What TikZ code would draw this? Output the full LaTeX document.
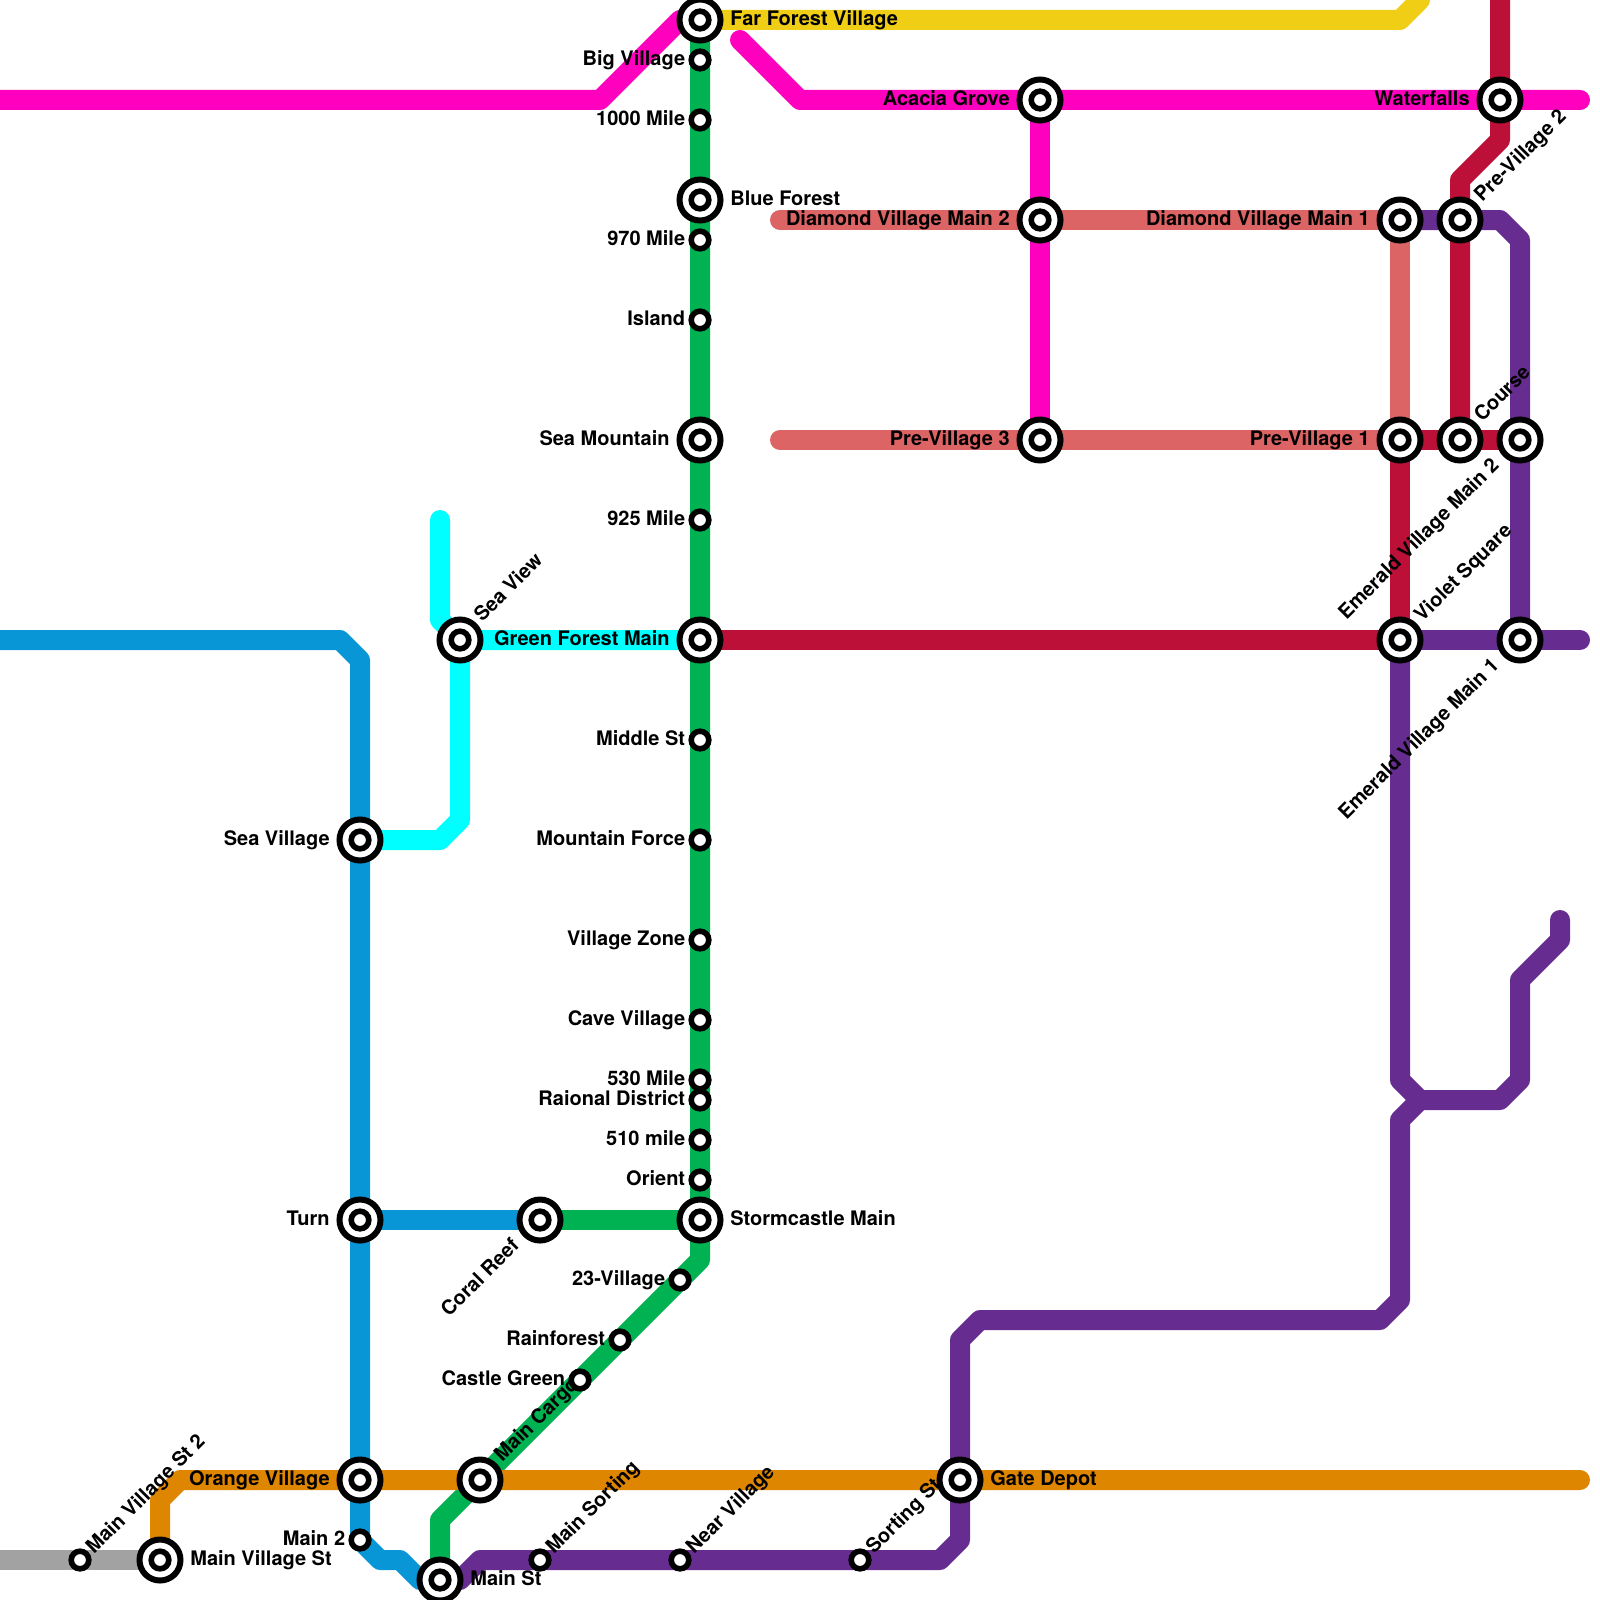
\documentclass[tikz,border=0pt]{standalone}
\usepackage{fontspec}
\setmainfont{TeX Gyre Heros}
\usetikzlibrary{backgrounds}
\definecolor{metroMagenta}{HTML}{FF00BF}
\definecolor{metroYellow}{HTML}{F0CE15}
\definecolor{metroCrimson}{HTML}{BD1038}
\definecolor{metroCoral}{HTML}{DC6464}
\definecolor{metroPurple}{HTML}{662C90}
\definecolor{metroBlue}{HTML}{0896D7}
\definecolor{metroGreen}{HTML}{00B251}
\definecolor{metroCyan}{HTML}{00FFFF}
\definecolor{metroOrange}{HTML}{DF8600}
\definecolor{metroGray}{HTML}{A2A2A2}
\tikzset{
  every picture/.style={font=\fontsize{10}{11}\selectfont\bfseries},
  every label/.style={inner ysep=0pt, text height=7.2pt, text depth=0pt, yshift=0.75pt},
  metro line/.style={line width=10pt, line cap=round, line join=round},
  metro hub/.style={circle, draw=black, fill=white, line width=3pt, inner sep=0pt,
    minimum size=20.5pt, outer sep=0pt,
    path picture={\draw[line width=2.8pt] (path picture bounding box.center) circle (4.4pt);}},
  metro stop/.style={circle, draw=black, fill=white, line width=2.8pt, inner sep=0pt,
    minimum size=8.8pt, outer sep=0pt},
  metro up/.style={rotate=45, anchor=west, xshift=-1.2pt, yshift=0.3pt},
  metro down/.style={rotate=45, anchor=east, xshift=-2.25pt, yshift=1.7pt}
}
\begin{document}
\begin{tikzpicture}[x=0.5pt,y=-0.5pt]
  \useasboundingbox (0,0) rectangle (1600,1600);
  % hubs
  \begin{scope}[label distance=1.4pt]
    \node[metro hub,label=0:Far Forest Village] (farForest) at (700,20) {};
    \node[metro hub,label=0:Blue Forest] (blueForest) at (700,200) {};
    \node[metro hub,label=180:Sea Mountain] (seaMountain) at (700,440) {};
    \node[metro hub,label=180:Green Forest Main] (greenForest) at (700,640) {};
    \node[metro hub,label=0:Stormcastle Main] (stormcastle) at (700,1220) {};
    \node[metro hub,label=180:Acacia Grove] (acacia) at (1040,100) {};
    \node[metro hub,label=180:Diamond Village Main 2] (diamondTwo) at (1040,220) {};
    \node[metro hub,label=180:Pre-Village 3] (preThree) at (1040,440) {};
    \node[metro hub,label=180:Diamond Village Main 1] (diamondOne) at (1400,220) {};
    \node[metro hub,label={[metro up]45:Pre-Village 2}] (preTwo) at (1460,220) {};
    \node[metro hub,label=180:Waterfalls] (waterfalls) at (1500,100) {};
    \node[metro hub,label=180:Pre-Village 1] (preOne) at (1400,440) {};
    \node[metro hub,label={[metro up]45:Course}] (course) at (1460,440) {};
    \node[metro hub,label={[metro down]225:Emerald Village Main 2}] (emeraldTwo) at (1520,440) {};
    \node[metro hub,label={[metro up]45:Violet Square}] (violet) at (1400,640) {};
    \node[metro hub,label={[metro down]225:Emerald Village Main 1}] (emeraldOne) at (1520,640) {};
    \node[metro hub,label={[metro up]45:Sea View}] (seaView) at (460,640) {};
    \node[metro hub,label=180:Sea Village] (seaVillage) at (360,840) {};
    \node[metro hub,label=180:Turn] (turn) at (360,1220) {};
    \node[metro hub,label={[metro down]225:Coral Reef}] (coralReef) at (540,1220) {};
    \node[metro hub,label=180:Orange Village] (orangeVillage) at (360,1480) {};
    \node[metro hub,label={[metro up]45:Main Cargo}] (mainCargo) at (480,1480) {};
    \node[metro hub,label=0:Main Village St] (mainVillage) at (160,1560) {};
    \node[metro hub,label=0:Main St] (mainSt) at (440,1580) {};
    \node[metro hub,label=0:Gate Depot] (gateDepot) at (960,1480) {};
  \end{scope}
  % stops
  \begin{scope}[label distance=-0.5pt]
    \node[metro stop,label=180:Big Village] (bigVillage) at (700,60) {};
    \node[metro stop,label=180:1000 Mile] (mileThousand) at (700,120) {};
    \node[metro stop,label=180:970 Mile] (mileNineSeventy) at (700,240) {};
    \node[metro stop,label=180:Island] (island) at (700,320) {};
    \node[metro stop,label=180:925 Mile] (mileNineTwoFive) at (700,520) {};
    \node[metro stop,label=180:Middle St] (middleSt) at (700,740) {};
    \node[metro stop,label=180:Mountain Force] (mountainForce) at (700,840) {};
    \node[metro stop,label=180:Village Zone] (villageZone) at (700,940) {};
    \node[metro stop,label=180:Cave Village] (caveVillage) at (700,1020) {};
    \node[metro stop,label=180:530 Mile] (mileFiveThirty) at (700,1080) {};
    \node[metro stop,label=180:Raional District] (raional) at (700,1100) {};
    \node[metro stop,label=180:510 mile] (mileFiveTen) at (700,1140) {};
    \node[metro stop,label=180:Orient] (orient) at (700,1180) {};
    \node[metro stop,label=180:23-Village] (villageTwentyThree) at (680,1280) {};
    \node[metro stop,label=180:Rainforest] (rainforest) at (620,1340) {};
    \node[metro stop,label=180:Castle Green] (castleGreen) at (580,1380) {};
    \node[metro stop,label=180:Main 2] (mainTwo) at (360,1540) {};
    \node[metro stop,label={[metro up]45:Main Village St 2}] (mainVillageTwo) at (80,1560) {};
    \node[metro stop,label={[metro up]45:Main Sorting}] (mainSorting) at (540,1560) {};
    \node[metro stop,label={[metro up]45:Near Village}] (nearVillage) at (680,1560) {};
    \node[metro stop,label={[metro up]45:Sorting St}] (sortingSt) at (860,1560) {};
  \end{scope}
  % free line ends
  \coordinate (magentaWest) at (0,100);
  \coordinate (magentaEast) at (1580,100);
  \coordinate (magentaStub) at (740,40);
  \coordinate (yellowEnd) at (1420,0);
  \coordinate (crimsonTop) at (1500,0);
  \coordinate (coralTop) at (780,220);
  \coordinate (coralLow) at (780,440);
  \coordinate (purpleEast) at (1580,640);
  \coordinate (purpleStub) at (1560,920);
  \coordinate (orangeEast) at (1580,1480);
  \coordinate (grayWest) at (0,1560);
  \coordinate (blueWest) at (0,640);
  \coordinate (cyanStub) at (440,520);
  % lines
  \begin{scope}[on background layer]
    \draw[metro line,metroGray] (grayWest) -- (mainVillage.center);
    \draw[metro line,metroYellow] (farForest.center) -- (1400,20) -- (yellowEnd);
    \draw[metro line,metroCoral] (coralTop) -- (diamondOne.center) -- (preOne.center) -- (coralLow);
    \draw[metro line,metroCrimson] (crimsonTop) -- (waterfalls.center) -- (1500,140) -- (1460,180) -- (preTwo.center) -- (course.center);
    \draw[metro line,metroCrimson] (greenForest.center) -- (violet.center) -- (preOne.center) -- (emeraldTwo.center);
    \draw[metro line,metroMagenta] (magentaWest) -- (600,100) -- (680,20) -- (farForest.center);
    \draw[metro line,metroMagenta] (magentaStub) -- (800,100) -- (magentaEast);
    \draw[metro line,metroMagenta] (acacia.center) -- (preThree.center);
    \draw[metro line,metroPurple] (diamondOne.center) -- (1500,220) -- (1520,240) -- (emeraldOne.center);
    \draw[metro line,metroPurple] (violet.center) -- (purpleEast);
    \draw[metro line,metroPurple] (violet.center) -- (1400,1080) -- (1420,1100) -- (1500,1100) -- (1520,1080) -- (1520,980) -- (1560,940) -- (purpleStub);
    \draw[metro line,metroPurple] (1420,1100) -- (1400,1120) -- (1400,1300) -- (1380,1320) -- (980,1320) -- (960,1340) -- (gateDepot.center) -- (960,1540) -- (940,1560) -- (480,1560) -- (460,1580) -- (mainSt.center);
    \draw[metro line,metroBlue] (blueWest) -- (340,640) -- (360,660) -- (mainTwo.center) -- (380,1560) -- (400,1560) -- (420,1580) -- (mainSt.center);
    \draw[metro line,metroBlue] (turn.center) -- (coralReef.center);
    \draw[metro line,metroGreen] (farForest.center) -- (700,1260) -- (440,1520) -- (mainSt.center);
    \draw[metro line,metroGreen] (coralReef.center) -- (stormcastle.center);
    \draw[metro line,metroCyan] (cyanStub) -- (440,620) -- (seaView.center) -- (greenForest.center);
    \draw[metro line,metroCyan] (seaView.center) -- (460,820) -- (440,840) -- (seaVillage.center);
    \draw[metro line,metroOrange] (orangeEast) -- (180,1480) -- (160,1500) -- (mainVillage.center);
  \end{scope}
\end{tikzpicture}
\end{document}
